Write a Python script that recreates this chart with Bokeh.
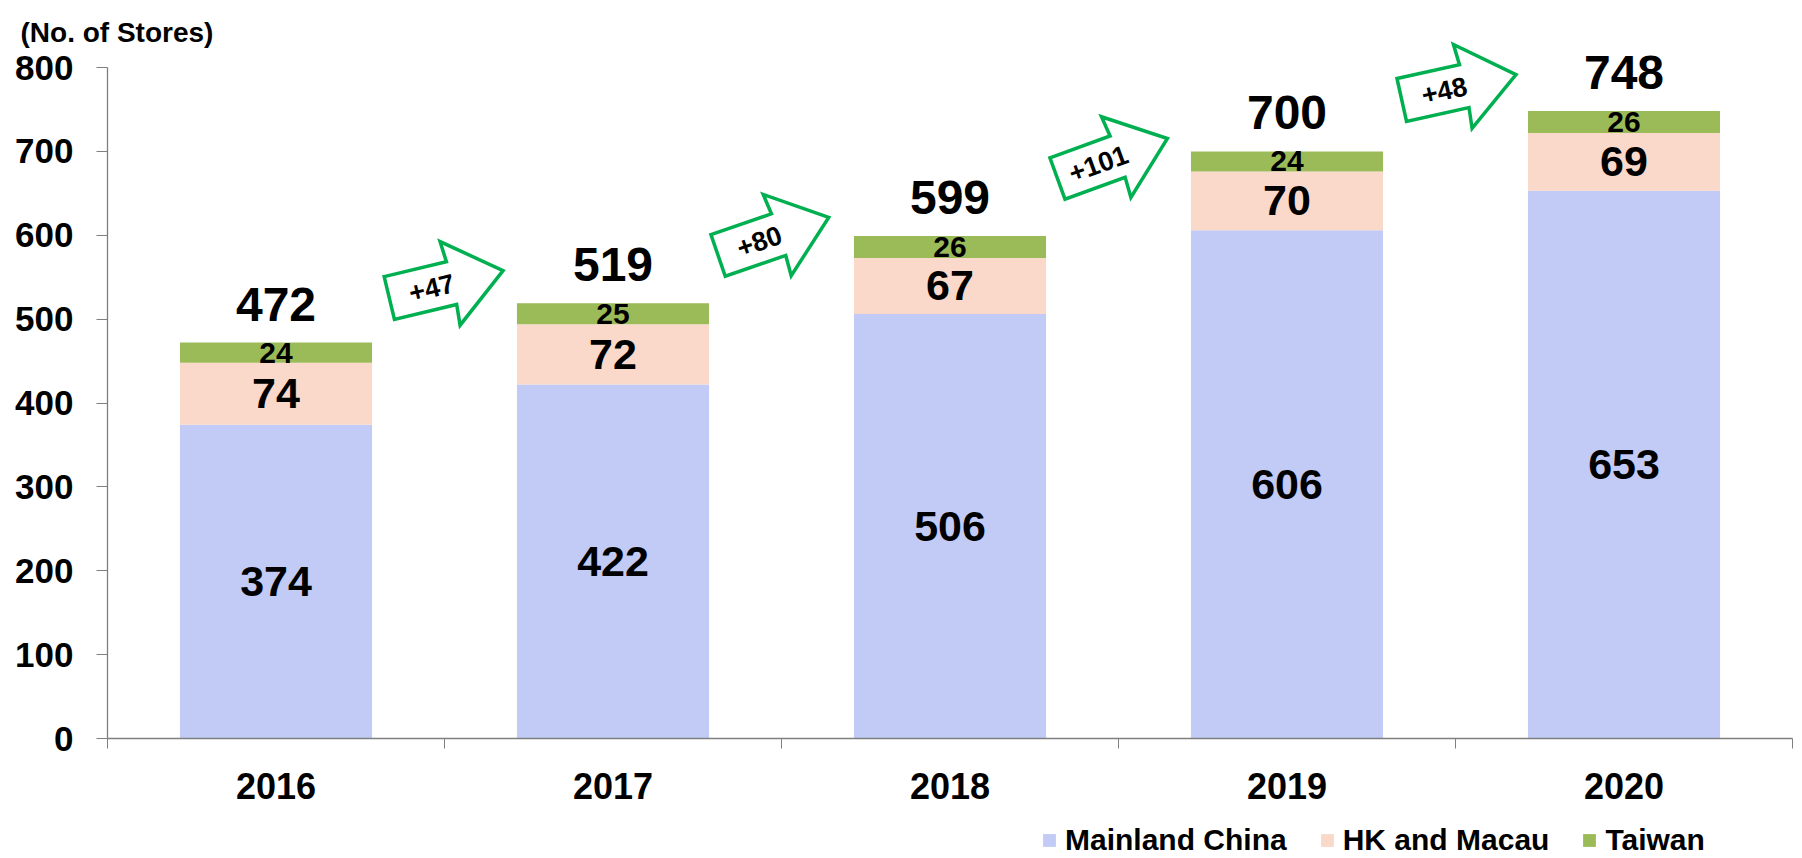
import math
from bokeh.plotting import figure
from bokeh.models import ColumnDataSource, FixedTicker, Legend, LegendItem, Label
from bokeh.embed import file_html
from bokeh.resources import INLINE
from bokeh.core.properties import value

# ---------------- data ----------------
years = ["2016", "2017", "2018", "2019", "2020"]
mainland = [374, 422, 506, 606, 653]
hk_macau = [74, 72, 67, 70, 69]
taiwan = [24, 25, 26, 24, 26]
series_names = ["Mainland China", "HK and Macau", "Taiwan"]
y_ticks = [0, 100, 200, 300, 400, 500, 600, 700, 800]
unit_label = "(No. of Stores)"

totals = [m + h + t for m, h, t in zip(mainland, hk_macau, taiwan)]
growth = [totals[i + 1] - totals[i] for i in range(len(totals) - 1)]

# ---------------- style / layout ----------------
FONT_NAME = "Liberation Sans"
FONT = value(FONT_NAME)
C_MAIN = "#C1CBF6"
C_HK = "#FAD8CA"
C_TW = "#9BBB59"
C_ARROW = "#00B050"
C_AXIS = "#7F7F7F"

W, H = 1802, 858
AX_LEFT, AX_RIGHT = 107, 1792      # pixel extent of the x axis
AX_TOP, AX_BOTTOM = 67, 738        # pixel extent of the y axis
N = len(years)
Y_MAX = 800
PX_X = (AX_RIGHT - AX_LEFT) / N
PX_Y = (AX_BOTTOM - AX_TOP) / Y_MAX

x_start = -AX_LEFT / PX_X
x_end = N + (W - AX_RIGHT) / PX_X
y_start = -(H - AX_BOTTOM) / PX_Y
y_end = Y_MAX + AX_TOP / PX_Y

p = figure(width=W, height=H, x_range=(x_start, x_end), y_range=(y_start, y_end),
           output_backend="svg", toolbar_location=None, title=None, min_border=0)
p.xgrid.visible = False
p.ygrid.visible = False
p.outline_line_color = None
p.background_fill_color = "white"
p.border_fill_color = "white"

xs = [i + 0.5 for i in range(N)]
src = ColumnDataSource(dict(x=xs, mainland=mainland, hk=hk_macau, taiwan=taiwan))
rs = p.vbar_stack(["mainland", "hk", "taiwan"], x="x", width=0.57, source=src,
                  fill_color=[C_MAIN, C_HK, C_TW], line_color=None)

# segment labels
def add_text(x, y, texts, size, y_offset=0):
    p.text(x=x, y=y, text=texts, text_font=FONT, text_font_size=size,
           text_font_style="bold", text_color="black", text_align="center",
           text_baseline="middle", y_offset=y_offset)

add_text(xs, [m / 2 for m in mainland], [str(v) for v in mainland], "43px")
add_text(xs, [m + h / 2 for m, h in zip(mainland, hk_macau)], [str(v) for v in hk_macau], "43px")
add_text(xs, [m + h + t / 2 for m, h, t in zip(mainland, hk_macau, taiwan)], [str(v) for v in taiwan], "30px")
add_text(xs, totals, [str(v) for v in totals], "48px", y_offset=-38.5)

# growth arrows (decorations between bars)
arrow_dx = [0.005, -0.024, -0.018, 0.010]
arrow_dy = [46, 39.6, 42, 52.4]
arrow_deg = [13.5, 19, 20, 12.5]
shape = [(-58.5, 22), (5.5, 22), (4, 43), (58.5, 0), (4, -43), (5.5, -22), (-58.5, -22)]
pxs, pys, tx, ty, ta, tt = [], [], [], [], [], []
for i, g in enumerate(growth):
    cx = i + 1 + arrow_dx[i]
    cy = (totals[i] + totals[i + 1]) / 2 + arrow_dy[i]
    th = math.radians(arrow_deg[i])
    c, s = math.cos(th), math.sin(th)
    px, py = [], []
    for u, v in shape:
        px.append(cx + (u * c - v * s) / PX_X)
        py.append(cy + (u * s + v * c) / PX_Y)
    pxs.append(px)
    pys.append(py)
    tx.append(cx + (-15 * c) / PX_X)
    ty.append(cy + (-15 * s) / PX_Y)
    ta.append(th)
    tt.append("+" + str(g))

p.patches(xs=pxs, ys=pys, fill_color="white", fill_alpha=0.0,
          line_color=C_ARROW, line_width=3.5, line_join="miter")
p.text(x=tx, y=ty, text=tt, angle=ta, text_font=FONT, text_font_size="27px",
       text_font_style="bold", text_color="black", text_align="center",
       text_baseline="middle")

# axes (fixed at the data origin, limited to the data extent)
xa = p.xaxis[0]
xa.fixed_location = 0
xa.bounds = (0, N)
xa.ticker = FixedTicker(ticks=xs, minor_ticks=list(range(N + 1)))
xa.major_label_overrides = {x: y for x, y in zip(xs, years)}
xa.major_tick_out = 0
xa.major_tick_in = 0
xa.minor_tick_out = 10
xa.minor_tick_in = 0
xa.minor_tick_line_color = C_AXIS
xa.axis_line_color = C_AXIS
xa.axis_line_width = 1.3
xa.major_label_standoff = 24
xa.major_label_text_font = FONT_NAME
xa.major_label_text_font_size = "36px"
xa.major_label_text_font_style = "bold"
xa.major_label_text_color = "black"

ya = p.yaxis[0]
ya.fixed_location = 0
ya.bounds = (0, Y_MAX)
ya.ticker = FixedTicker(ticks=y_ticks, minor_ticks=[])
ya.major_tick_out = 11
ya.major_tick_in = 0
ya.major_tick_line_color = C_AXIS
ya.minor_tick_line_color = None
ya.axis_line_color = C_AXIS
ya.axis_line_width = 1.3
ya.major_label_standoff = 23
ya.major_label_text_font = FONT_NAME
ya.major_label_text_font_size = "35px"
ya.major_label_text_font_style = "bold"
ya.major_label_text_color = "black"

# unit label
p.add_layout(Label(x=20, y=H - 32, x_units="screen", y_units="screen",
                   text=unit_label, text_font=FONT_NAME, text_font_size="28px",
                   text_font_style="bold", text_color="black",
                   text_baseline="alphabetic", text_align="left"))

# legend
legend = Legend(items=[LegendItem(label=n, renderers=[r]) for n, r in zip(series_names, rs)],
                orientation="horizontal", location=(1041, 1),
                glyph_width=16, glyph_height=16, label_standoff=8, spacing=32,
                padding=0, margin=0, border_line_color=None, background_fill_alpha=0,
                label_text_font=FONT_NAME, label_text_font_size="30px",
                label_text_font_style="bold", label_text_color="black")
p.add_layout(legend)

open("out.html", "w").write(file_html(p, INLINE))
